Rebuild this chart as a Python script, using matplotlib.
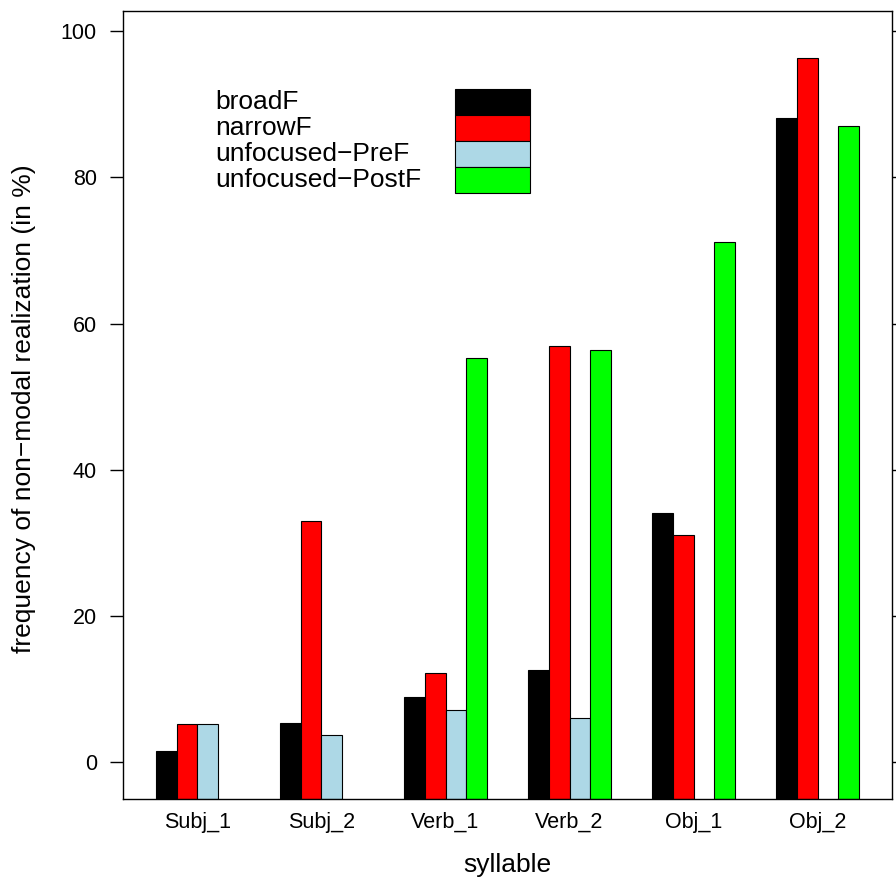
import numpy as np
import matplotlib.pyplot as plt
from matplotlib.patches import Rectangle

plt.rcParams['font.family'] = ['Liberation Sans', 'DejaVu Sans']

# dados
silabas = ["Subj_1", "Subj_2", "Verb_1", "Verb_2", "Obj_1", "Obj_2"]
grupos = ["broadF", "narrowF", "unfocused\u2212PreF", "unfocused\u2212PostF"]
cores = ["black", "#FF0000", "#ADD8E6", "#00FF00"]

broadF = [1.5, 5.3, 8.9, 12.6, 34.1, 88.2]
narrowF = [5.2, 32.9, 12.2, 56.9, 31.0, 96.4]
pre_f = [5.2, 3.7, 7.1, 6.0, np.nan, np.nan]
post_f = [np.nan, np.nan, 55.3, 56.4, 71.2, 87.1]
valores = [broadF, narrowF, pre_f, post_f]

fig = plt.figure(figsize=(8.96, 8.84), dpi=100)
ax = fig.add_axes([0.1373, 0.0962, 0.8583, 0.8914])

y0, y1 = -5.1, 102.8
ax.set_ylim(y0, y1)
ax.set_xlim(-0.6, 5.6)

x = np.arange(len(silabas))
w = 0.168
for i, (vals, cor) in enumerate(zip(valores, cores)):
    v = np.array(vals, dtype=float)
    ok = ~np.isnan(v)
    ax.bar(x[ok] + (i - 1.5) * w, v[ok] - y0, bottom=y0, width=w,
           color=cor, edgecolor="black", linewidth=0.8, align="center")

ax.set_xticks(x)
ax.set_xticklabels(silabas, fontsize=15.5)
ax.set_yticks([0, 20, 40, 60, 80, 100])
ax.tick_params(axis="y", labelsize=15.5, length=9.4, width=1, pad=9.4,
               direction="out", right=True)
ax.tick_params(axis="x", length=0, pad=9.4)
for s in ax.spines.values():
    s.set_linewidth(1.0)

ax.set_xlabel("syllable", fontsize=19)
ax.xaxis.set_label_coords(0.5, -0.0685)
ax.set_ylabel("frequency of non\u2212modal realization (in %)", fontsize=19)
ax.yaxis.set_label_coords(-0.113, 0.495)

# legenda (estilo lattice)
passo = 0.033
for k, (nome, cor) in enumerate(zip(grupos, cores)):
    yc = 0.8845 - k * passo
    ax.text(0.1196, yc, nome, transform=ax.transAxes, fontsize=19,
            ha="left", va="center")
    ax.add_patch(Rectangle((0.4317, yc - passo / 2), 0.0976, passo,
                           transform=ax.transAxes, facecolor=cor,
                           edgecolor="black", linewidth=0.8))

fig.savefig("out.png", dpi=100)
